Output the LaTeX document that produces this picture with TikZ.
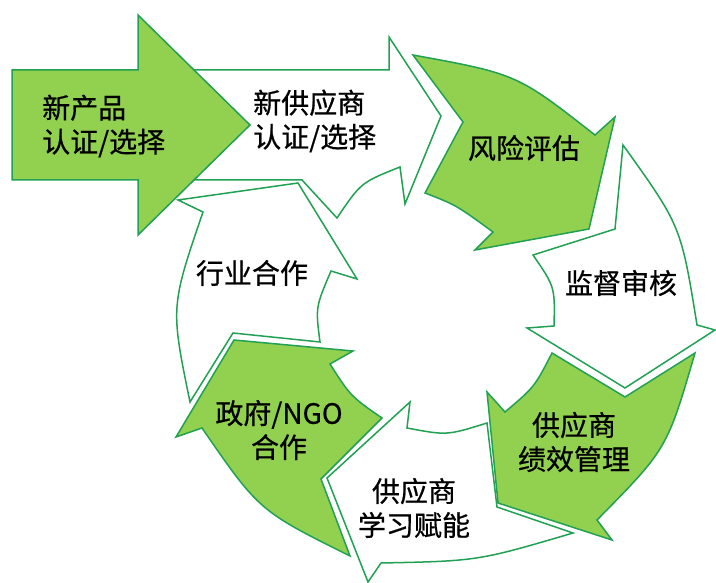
\documentclass[tikz,border=0pt]{standalone}
\usepackage{fontspec}
\newfontfamily\cjk[FakeBold=0.6]{Noto Sans CJK SC}
\definecolor{agreen}{RGB}{146,208,80}
\definecolor{aline}{RGB}{34,160,84}
\tikzset{
  gshape/.style={fill=agreen, draw=aline, line width=1.5pt, line join=miter},
  wshape/.style={fill=white, draw=aline, line width=1.5pt, line join=miter},
  lbl/.style={font=\cjk\fontsize{28}{34}\selectfont, text=black, inner sep=0pt, align=center}
}
\begin{document}
\begin{tikzpicture}[x=1pt,y=-1pt]
\useasboundingbox (0,0) rectangle (716,583);
% ring arrows
\draw[gshape] (413,55) .. controls (517,74) .. (595,135) -- (615,117) -- (589,229) -- (475,250) -- (493,232) .. controls (456,205) .. (425,193) -- (463,122) -- cycle;
\draw[wshape] (623,145) .. controls (681,226) .. (697,325) -- (715,330) -- (625,388) -- (527,328) -- (554,326) .. controls (555,287) .. (533,255) -- (615,229) -- cycle;
\draw[gshape] (695,353) .. controls (667,449) .. (597,520) -- (612,540) -- (498,503) -- (487,392) -- (505,412) .. controls (534.5,387) .. (552,353) -- (625,397) -- cycle;
\draw[wshape] (573,533) .. controls (478,561) .. (381,563) -- (368,582) -- (327,478) -- (410,402) -- (407,428) .. controls (447,435.5) .. (487,423) -- (497,507) -- cycle;
\draw[gshape] (350,556) .. controls (259,510.7) .. (202,428) -- (176,437) -- (234,340) -- (353,351) -- (330,364) .. controls (350.7,396.3) .. (382,418) -- (321,479) -- cycle;
\draw[wshape] (298,183) -- (357,279) -- (331,271) .. controls (315.5,307.2) .. (320,342) -- (233,333) -- (190,402) .. controls (170.5,307) .. (203,212) -- (178,200) -- cycle;
% new supplier arrow
\draw[wshape] (150,70) -- (389,70) -- (389,37) -- (441,116) -- (405,204) -- (400,167) .. controls (361,182.5) .. (337,218) -- (302,180) -- (150,180) -- cycle;
% new product arrow
\draw[gshape] (12,70) -- (138,70) -- (138,15) -- (250,125) -- (138,235) -- (138,180) -- (12,180) -- cycle;
% labels
\node[lbl, align=left, anchor=west] (tnp) at (42,126) {新产品\\认证/选择};
\node[lbl, align=left, anchor=west] (tns) at (253,121) {新供应商\\认证/选择};
\node[lbl] (trisk) at (524,148) {风险评估};
\node[lbl] (taudit) at (621,283) {监督审核};
\node[lbl] (tperf) at (574,442) {供应商\\绩效管理};
\node[lbl] (tlearn) at (414,508) {供应商\\学习赋能};
\node[lbl] (tgov) at (279,430) {政府/NGO\\合作};
\node[lbl] (tind) at (252,273) {行业合作};
\end{tikzpicture}
\end{document}
